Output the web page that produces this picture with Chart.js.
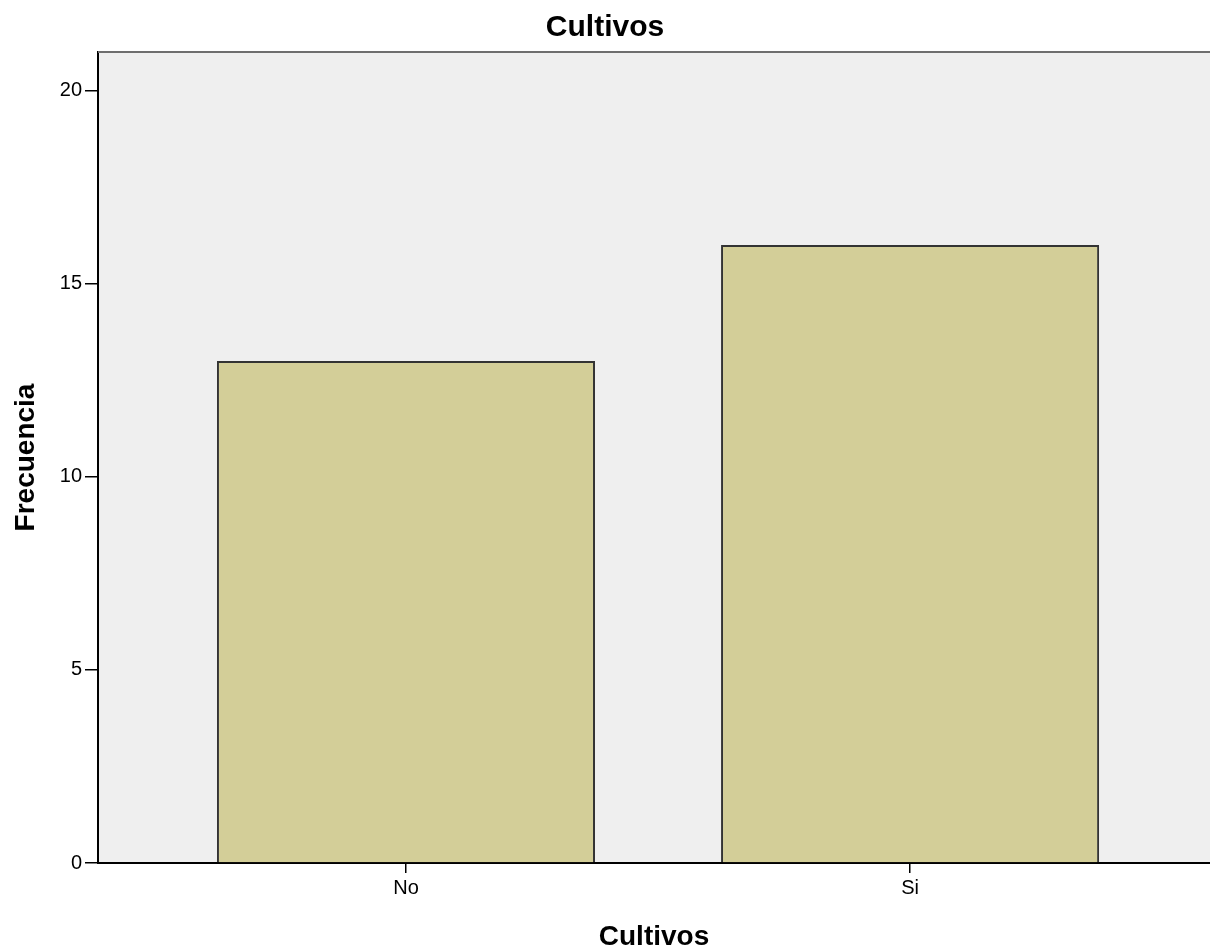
<!DOCTYPE html>
<html>
<head>
<meta charset="utf-8">
<script src="https://cdn.jsdelivr.net/npm/chart.js@4.4.1/dist/chart.umd.min.js"></script>
<style>
  html, body { margin: 0; padding: 0; background: #ffffff; overflow: hidden; }
  #wrap { width: 1210px; height: 951px; position: relative; }
</style>
</head>
<body>
<div id="wrap"><canvas id="c" width="1210" height="951"></canvas></div>
<script>
const chartTitle = 'Cultivos';
const xAxisTitle = 'Cultivos';
const yAxisTitle = 'Frecuencia';
const categories = ['No', 'Si'];
const frequencies = [13, 16];
const yTicks = [0, 5, 10, 15, 20];

const FONT = "'Liberation Sans', Arial, sans-serif";

const plotBg = {
  id: 'plotBg',
  beforeDraw(chart) {
    const { ctx, chartArea: a } = chart;
    ctx.save();
    ctx.fillStyle = '#efefef';
    ctx.fillRect(a.left, a.top, a.right - a.left, a.bottom - a.top);
    ctx.restore();
  },
  afterDraw(chart) {
    const { ctx, chartArea: a } = chart;
    ctx.save();
    ctx.strokeStyle = '#6e6e6e';
    ctx.lineWidth = 2;
    ctx.beginPath();
    ctx.moveTo(a.left, a.top);
    ctx.lineTo(a.right, a.top);
    ctx.stroke();
    ctx.restore();
  }
};

new Chart(document.getElementById('c'), {
  type: 'bar',
  data: {
    datasets: [{
      data: categories.map((c, i) => ({ x: i, y: frequencies[i] })),
      backgroundColor: '#d3ce98',
      borderColor: '#333333',
      borderWidth: 2,
      categoryPercentage: 0.75,
      barPercentage: 1
    }]
  },
  options: {
    responsive: false,
    animation: false,
    layout: { padding: 0 },
    plugins: {
      legend: { display: false },
      tooltip: { enabled: false },
      title: {
        display: true,
        text: chartTitle,
        color: '#000',
        font: { family: FONT, size: 30, weight: 'bold', lineHeight: 1.2 },
        padding: { top: 10, bottom: 6 }
      }
    },
    scales: {
      x: {
        type: 'linear',
        offset: false,
        min: -0.611,
        max: 1.595,
        afterBuildTicks(scale) { scale.ticks = categories.map((c, i) => ({ value: i })); },
        afterFit(scale) { scale.height = 88; },
        ticks: {
          callback: (v) => categories[v],
          color: '#000',
          font: { family: FONT, size: 20 },
          padding: 3,
          maxRotation: 0,
          autoSkip: false
        },
        grid: { offset: false, drawOnChartArea: false, drawTicks: true, tickLength: 10, color: '#000', lineWidth: 1.5 },
        border: { display: true, color: '#000', width: 2 },
        title: {
          display: true,
          text: xAxisTitle,
          color: '#000',
          font: { family: FONT, size: 28, weight: 'bold', lineHeight: 1.0 },
          padding: { top: 0, bottom: 0 }
        }
      },
      y: {
        min: 0,
        max: 21,
        afterBuildTicks(scale) { scale.ticks = yTicks.map(v => ({ value: v })); },
        afterFit(scale) { scale.width = 98; },
        ticks: {
          color: '#000',
          font: { family: FONT, size: 20 },
          padding: 3
        },
        grid: { drawOnChartArea: false, drawTicks: true, tickLength: 13, color: '#000', lineWidth: 1.5 },
        border: { display: true, color: '#000', width: 2 },
        title: {
          display: true,
          text: yAxisTitle,
          color: '#000',
          font: { family: FONT, size: 28, weight: 'bold', lineHeight: 1.2 },
          padding: { top: 9, bottom: 0 }
        }
      }
    }
  },
  plugins: [plotBg]
});
</script>
</body>
</html>
